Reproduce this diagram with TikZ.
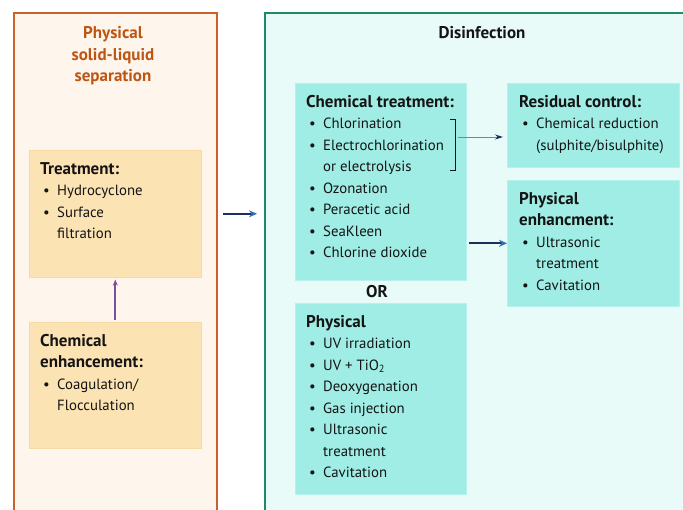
\documentclass[tikz,border=0pt]{standalone}
\usepackage{fontspec}
\setmainfont{PT Sans}
\usetikzlibrary{arrows.meta}

\definecolor{sepBorder}{HTML}{C8622A}
\definecolor{sepBg}{HTML}{FEF6EC}
\definecolor{sepBox}{HTML}{FCE3B3}
\definecolor{sepBoxLine}{HTML}{F8D9A2}
\definecolor{sepTitle}{HTML}{BE5512}
\definecolor{disBorder}{HTML}{1F8A68}
\definecolor{disBg}{HTML}{E8FBF8}
\definecolor{disBox}{HTML}{A0EDE5}
\definecolor{disBoxLine}{HTML}{B6F2EC}
\definecolor{ink}{HTML}{141414}
\definecolor{navy}{HTML}{1B2F5B}
\definecolor{headBlue}{HTML}{2F6FB5}
\definecolor{tealLine}{HTML}{3A9FA8}
\definecolor{violet}{HTML}{7B4FA0}

% bullet item, continuation line and heading inside the lists
\newcommand\itm{\hspace*{3pt}\makebox[14pt][l]{\textbullet}}
\newcommand\cont{\hspace*{17pt}}
\newcommand\hd[1]{{\fontsize{17}{21.5}\selectfont\bfseries #1}}

\begin{document}
\begin{tikzpicture}[x=1pt,y=-1pt,
  frame/.style={rectangle, anchor=north west, inner sep=0, line width=1.8pt},
  sepframe/.style={frame, draw=sepBorder, fill=sepBg},
  disframe/.style={frame, draw=disBorder, fill=disBg},
  sepbox/.style={rectangle, anchor=north west, inner sep=0, fill=sepBox, draw=sepBoxLine, line width=0.6pt},
  disbox/.style={rectangle, anchor=north west, inner sep=0, fill=disBox, draw=disBoxLine, line width=0.6pt},
  txt/.style={font=\fontsize{14.8}{21.5}\selectfont, align=left, inner sep=0, anchor=north west, text=ink},
  title/.style={font=\fontsize{17}{21.5}\selectfont\bfseries, align=center, inner sep=0},
  mainarrow/.style={draw=navy, line width=1.6pt, -{Stealth[length=8pt,width=7pt,color=headBlue,fill=headBlue]}},
  uparrow/.style={draw=violet, line width=1.8pt, -{Stealth[length=6pt,width=5pt]}},
  thinarrow/.style={draw=tealLine, line width=0.9pt, -{Stealth[length=8pt,width=5pt,color=navy,fill=navy]}},
]
\useasboundingbox (0,0) rectangle (683,510);
\clip (0,0) rectangle (683,510);

% outer frames
\node[sepframe, minimum width=203pt, minimum height=520pt] (sep) at (13,12) {};
\node[disframe, minimum width=440pt, minimum height=520pt] (dis) at (264,12) {};

% frame titles
\node[title, text=sepTitle] (sepT) at (113,56) {Physical\\solid-liquid\\separation};
\node[title, text=ink] (disT) at (482,33) {Disinfection};

% separation boxes
\node[sepbox, minimum width=172pt, minimum height=127pt] (treat) at (29,150) {};
\node[sepbox, minimum width=172pt, minimum height=126pt] (chemenh) at (29,322) {};
\node[txt] (treatT) at ([xshift=11pt,yshift=-12pt]treat.north west)
  {\hd{Treatment:}\\ \itm Hydrocyclone\\ \itm Surface\\ \cont filtration};
\node[txt] (chemenhT) at ([xshift=11pt,yshift=-12pt]chemenh.north west)
  {\hd{Chemical}\\ \hd{enhancement:}\\ \itm Coagulation/\\ \cont Flocculation};

% disinfection boxes
\node[disbox, minimum width=171pt, minimum height=197pt] (chem) at (295,83) {};
\node[disbox, minimum width=171pt, minimum height=191pt] (phys) at (295,303) {};
\node[disbox, minimum width=172pt, minimum height=84pt] (res) at (507,83) {};
\node[disbox, minimum width=172pt, minimum height=126pt] (phyenh) at (507,180) {};

\node[txt] (chemT) at ([xshift=11pt,yshift=-12pt]chem.north west)
  {\hd{Chemical treatment:}\\ \itm Chlorination\\ \itm Electrochlorination\\ \cont or electrolysis\\
   \itm Ozonation\\ \itm Peracetic acid\\ \itm SeaKleen\\ \itm Chlorine dioxide};
\node[txt] (physT) at ([xshift=11pt,yshift=-12pt]phys.north west)
  {\hd{Physical}\\ \itm UV irradiation\\ \itm UV + TiO\textsubscript{2}\\ \itm Deoxygenation\\
   \itm Gas injection\\ \itm Ultrasonic\\ \cont treatment\\ \itm Cavitation};
\node[txt] (resT) at ([xshift=12pt,yshift=-12pt]res.north west)
  {\hd{Residual control:}\\ \itm Chemical reduction\\ \cont (sulphite/bisulphite)};
\node[txt] (phyenhT) at ([xshift=12pt,yshift=-12pt]phyenh.north west)
  {\hd{Physical}\\ \hd{enhancment:}\\ \itm Ultrasonic\\ \cont treatment\\ \itm Cavitation};

\node[title, text=ink] (or) at (377,292) {OR};

% bracket grouping the chlorination items
\draw[ink, line width=0.8pt] (450,119) -- (455,119) -- (455,170) -- (450,170);
\coordinate (brk) at (455,137);

% connectors
\draw[mainarrow] ([xshift=5pt]sep.east |- treat.east) -- ([xshift=-7pt]dis.west |- treat.east);
\draw[uparrow] ([yshift=2pt]chemenh.north) -- ([yshift=-2pt]treat.south);
\draw[thinarrow, shorten >=4pt] ([xshift=3pt]brk) -- (res.west |- brk);
\draw[mainarrow] ([xshift=2pt]chem.east |- phyenh.west) -- (phyenh.west);
\end{tikzpicture}
\end{document}
